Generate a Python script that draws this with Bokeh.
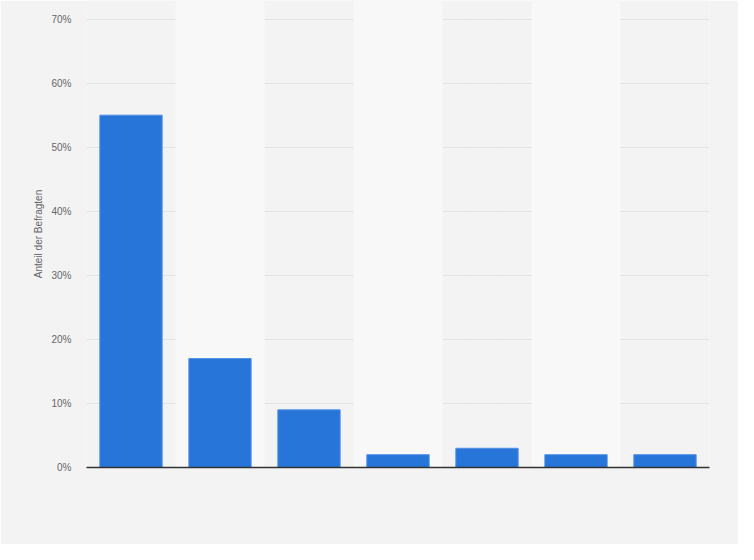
from bokeh.plotting import figure
from bokeh.models import FixedTicker, PrintfTickFormatter, ColumnDataSource, Range1d
from bokeh.embed import file_html
from bokeh.resources import INLINE

categories = ["A", "B", "C", "D", "E", "F", "G"]
values = [55, 17, 9, 2, 3, 2, 2]
band_categories = ["B", "D", "F"]
y_ticks = [0, 10, 20, 30, 40, 50, 60, 70]
y_title = "Anteil der Befragten"

FONT = "Liberation Sans"
Y_MAX = 72.9

p = figure(
    x_range=categories,
    y_range=Range1d(0, Y_MAX),
    width=738, height=544,
    output_backend="svg", toolbar_location=None,
    min_border_left=86, min_border_right=29, min_border_top=0, min_border_bottom=77,
    background_fill_color="#f3f3f3", border_fill_color="#f3f3f3",
    outline_line_color=None,
)

# alternating lighter column bands
band_src = ColumnDataSource(dict(x=band_categories, top=[Y_MAX] * len(band_categories)))
p.vbar(x="x", top="top", bottom=0, width=1.0, source=band_src,
       fill_color="#f8f8f8", line_color=None)

src = ColumnDataSource(dict(x=categories, top=values))
p.vbar(x="x", top="top", width=0.70, source=src,
       fill_color="#2775d9", line_color="#4f8fe6", line_width=1)

# y axis
p.yaxis.ticker = FixedTicker(ticks=y_ticks)
p.yaxis.formatter = PrintfTickFormatter(format="%d%%")
p.yaxis.axis_line_color = None
p.yaxis.major_tick_line_color = None
p.yaxis.minor_tick_line_color = None
p.yaxis.major_tick_out = 0
p.yaxis.major_tick_in = 0
p.yaxis.major_label_standoff = 15
p.yaxis.major_label_text_font = FONT
p.yaxis.major_label_text_font_size = "10px"
p.yaxis.major_label_text_color = "#666666"
p.yaxis.axis_label = y_title
p.yaxis.axis_label_text_font = FONT
p.yaxis.axis_label_text_font_size = "10px"
p.yaxis.axis_label_text_font_style = "normal"
p.yaxis.axis_label_text_color = "#666666"
p.yaxis.axis_label_standoff = 4

# x axis: only the dark baseline
p.xaxis.axis_line_color = "#333333"
p.xaxis.axis_line_width = 1.5
p.xaxis.major_tick_line_color = None
p.xaxis.minor_tick_line_color = None
p.xaxis.major_label_text_color = None
p.xaxis.major_label_text_font_size = "1px"

p.xgrid.grid_line_color = None
p.ygrid.grid_line_color = "#d2d2d2"
p.ygrid.grid_line_dash = "1 1"
p.ygrid.grid_line_width = 1

open("out.html", "w").write(file_html(p, INLINE))
